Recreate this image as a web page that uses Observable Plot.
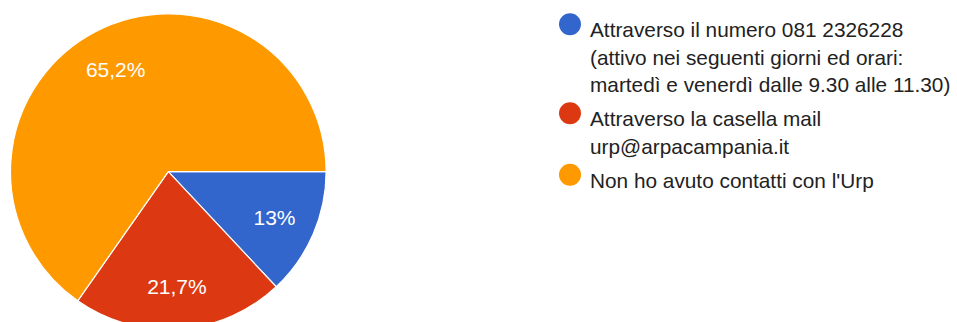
<!DOCTYPE html>
<html><head><meta charset="utf-8">
<script src="https://cdn.jsdelivr.net/npm/d3@7"></script>
<script src="https://cdn.jsdelivr.net/npm/@observablehq/plot@0.6"></script>
<style>body{margin:0;background:#fff}#chart svg{display:block}</style>
</head><body><div id="chart"></div>
<script>
const categories = [
  "Attraverso il numero 081 2326228\n(attivo nei seguenti giorni ed orari:\nmartedì e venerdì dalle 9.30 alle 11.30)",
  "Attraverso la casella mail\nurp@arpacampania.it",
  "Non ho avuto contatti con l'Urp"
];
const values = [13, 21.7, 65.2];
const sliceLabels = ["13%", "21,7%", "65,2%"];
const colors = ["#3366cc", "#dc3912", "#ff9900"];

const W = 957, H = 322;
const CX = 168.3, CY = 171.6, R = 157.8, LABEL_R = 0.73;
const FS = 20.8, LH = 27.6, GAP = 6.2, LEG_X = 589.5, DOT_X = 569.5, BASE0 = 31.8;

const arcs = d3.pie().sort(null).value(d => d)
  .startAngle(Math.PI / 2).endAngle(Math.PI / 2 + 2 * Math.PI)(values);
const slices = arcs.map((a, i) => ({...a, name: categories[i], label: sliceLabels[i], mid: (a.startAngle + a.endAngle) / 2}));

let base = BASE0;
const legend = categories.map((c) => {
  const row = {name: c, baseline: base};
  base += c.split("\n").length * LH + GAP;
  return row;
});

const pieMark = (index, scales) => {
  const sx = scales.x ?? (v => v), sy = scales.y ?? (v => v);
  const col = scales.color ?? ((n) => colors[categories.indexOf(n)]);
  const arc = d3.arc().innerRadius(0).outerRadius(sx(CX + R) - sx(CX));
  const g = d3.create("svg:g").attr("transform", `translate(${sx(CX)},${sy(CY)})`);
  g.selectAll("path").data(slices).join("path")
    .attr("d", arc)
    .attr("fill", d => col(d.name))
    .attr("stroke", "#fff").attr("stroke-width", 1.2).attr("stroke-linejoin", "round");
  return g.node();
};

const chart = Plot.plot({
  width: W, height: H,
  margin: 0,
  x: {domain: [0, W], range: [0, W], axis: null},
  y: {domain: [0, H], range: [0, H], axis: null},
  color: {domain: categories, range: colors},
  style: {fontFamily: "'Liberation Sans', Arial, sans-serif", background: "#fff"},
  marks: [
    pieMark,
    Plot.text(slices, {
      x: d => CX + LABEL_R * R * Math.sin(d.mid),
      y: d => CY - LABEL_R * R * Math.cos(d.mid),
      text: "label", fill: "#fff", fontSize: 21, textAnchor: "middle"
    }),
    Plot.dot(legend, {x: () => DOT_X, y: d => d.baseline - 8, r: 11, fill: "name", stroke: null}),
    Plot.text(legend, {
      x: () => LEG_X, y: d => d.baseline - 0.71 * FS,
      text: "name", textAnchor: "start", lineAnchor: "top",
      fontSize: FS, lineHeight: LH / FS, fill: "#222"
    })
  ]
});
document.getElementById("chart").append(chart);
</script>
</body></html>
